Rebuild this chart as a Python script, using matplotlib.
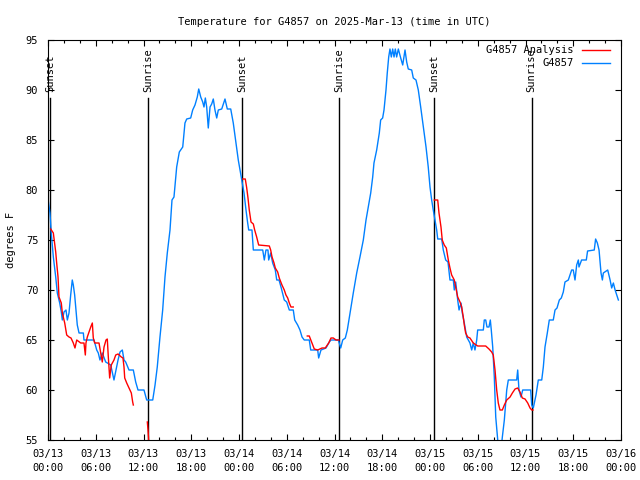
import numpy as np
import pandas as pd
import matplotlib
matplotlib.use("Agg")
import matplotlib.pyplot as plt
import matplotlib.dates as mdates

start = pd.Timestamp("2025-03-13 00:00")

# observed temperature, hours since 03/13 00:00 UTC
obs_hours = [0.0, 0.25, 0.41, 0.67, 0.97, 1.17, 1.47, 1.67, 1.80, 2.01, 2.26, 2.43, 2.64, 2.85,
             3.05, 3.18, 3.35, 3.52, 3.68, 3.90, 4.44, 4.52, 5.78, 6.12, 6.32, 6.53, 6.82, 7.25,
             7.88, 8.29, 8.80, 9.05, 9.34, 9.55, 9.76, 10.18, 10.72, 11.02, 11.31, 12.06, 12.40,
             13.16, 13.45, 13.73, 14.07, 14.41, 14.70, 14.99, 15.33, 15.58, 15.83, 16.17, 16.50,
             16.93, 17.21, 17.43, 17.93, 18.18, 18.47, 18.76, 18.94, 19.19, 19.44, 19.60, 19.77,
             19.94, 20.14, 20.36, 20.57, 20.77, 20.98, 21.20, 21.40, 21.83, 22.24, 22.53, 22.96,
             23.28, 23.62, 23.91, 24.34, 24.63, 24.88, 25.09, 25.22, 25.63, 25.80, 26.98, 27.18,
             27.39, 27.64, 27.73, 27.98, 28.23, 28.56, 28.74, 29.03, 29.31, 29.69, 29.99, 30.32,
             30.82, 31.00, 31.37, 31.66, 31.92, 32.20, 32.83, 33.01, 33.89, 34.01, 34.30, 34.93,
             35.35, 35.56, 36.40, 36.48, 36.78, 37.03, 37.36, 37.61, 37.95, 38.36, 38.79, 39.20,
             39.62, 39.96, 40.25, 40.55, 40.80, 40.96, 41.30, 41.63, 41.80, 42.05, 42.22, 42.47,
             42.63, 42.81, 42.97, 43.14, 43.31, 43.48, 43.64, 43.81, 44.02, 44.32, 44.57, 44.86,
             45.07, 45.27, 45.70, 45.90, 46.24, 46.53, 46.83, 47.16, 47.50, 47.78, 48.00, 48.21,
             48.41, 48.63, 48.84, 48.97, 49.47, 49.67, 49.97, 50.26, 50.51, 50.93, 51.05, 51.23,
             51.48, 51.65, 51.90, 52.06, 52.31, 52.61, 52.81, 53.02, 53.24, 53.44, 53.65, 53.87,
             53.99, 54.70, 54.82, 55.00, 55.16, 55.41, 55.58, 55.70, 55.88, 56.08, 56.26, 56.51,
             56.67, 56.92, 57.09, 57.34, 57.64, 57.84, 58.89, 59.02, 59.18, 59.43, 59.65, 60.65,
             60.78, 60.98, 61.32, 61.61, 62.04, 62.24, 62.45, 62.74, 62.99, 63.49, 63.71, 63.96,
             64.25, 64.50, 64.75, 64.96, 65.38, 65.59, 65.80, 66.00, 66.22, 66.43, 66.64, 66.72,
             67.05, 67.64, 67.80, 68.64, 68.81, 69.03, 69.24, 69.49, 69.66, 69.78, 70.33, 70.63,
             70.83, 71.04, 71.26, 71.46, 71.67]
obs_temps = [79.1, 77.7, 75.7, 73.3, 71.3, 69.7, 68.7, 67.8, 67.0, 67.8, 68.0, 67.0, 67.7, 69.5,
             71.0, 70.5, 69.5, 68.0, 66.5, 65.7, 65.7, 65.0, 65.0, 64.0, 63.7, 63.0, 63.7, 62.8,
             62.5, 61.0, 63.0, 63.8, 64.0, 63.0, 62.8, 62.0, 62.0, 60.8, 60.0, 60.0, 59.0,
             59.0, 60.5, 62.3, 65.3, 68.0, 71.3, 73.7, 76.0, 79.0, 79.3, 82.3, 83.8,
             84.3, 86.7, 87.1, 87.2, 88.0, 88.5, 89.3, 90.1, 89.3, 88.8, 88.3, 89.2,
             88.3, 86.2, 88.3, 88.6, 89.1, 88.0, 87.2, 88.0, 88.1, 89.1, 88.1, 88.1,
             86.7, 84.7, 83.0, 81.0, 79.7, 78.0, 76.7, 76.0, 76.0, 74.0, 74.0, 73.0,
             74.0, 74.0, 73.0, 73.7, 72.7, 72.0, 71.0, 71.0, 70.2, 69.0, 68.8, 68.0,
             68.0, 67.0, 66.5, 66.0, 65.3, 65.0, 65.0, 64.0, 64.0, 63.2, 64.0, 64.2,
             64.8, 65.0, 65.0, 65.0, 64.2, 65.0, 65.2, 66.0, 67.7, 69.7, 71.7, 73.3,
             75.0, 77.0, 78.3, 79.7, 81.3, 82.7, 84.0, 85.7, 87.0, 87.2, 88.0, 90.0,
             91.7, 93.3, 94.1, 93.3, 94.1, 93.3, 94.1, 93.3, 94.1, 93.2, 92.5, 94.0,
             92.8, 92.1, 92.0, 91.2, 91.0, 90.0, 88.3, 86.3, 84.3, 82.3, 80.3, 79.0,
             78.0, 77.0, 76.0, 75.1, 75.1, 74.0, 73.0, 72.8, 71.0, 71.0, 70.0, 70.8,
             69.0, 68.0, 68.7, 67.7, 66.7, 65.3, 65.0, 64.7, 64.0, 64.7, 64.0, 65.0,
             66.0, 66.0, 67.0, 67.0, 66.3, 66.3, 67.0, 66.0, 64.3, 61.3, 57.3, 55.0,
             54.0, 54.0, 55.3, 57.0, 60.0, 61.0, 61.0, 62.0, 60.0, 59.3, 60.0, 60.0,
             58.5, 58.2, 59.5, 61.0, 61.0, 62.3, 64.3, 65.7, 67.0, 67.0, 68.0, 68.2,
             69.0, 69.2, 69.8, 70.8, 71.0, 71.5, 72.0, 72.0, 71.0, 72.5, 73.0, 72.3,
             73.0, 73.0, 73.9, 74.0, 75.1, 74.7, 74.0, 71.7, 71.0, 71.7, 72.0, 71.0,
             70.2, 70.7, 70.0, 69.5, 69.0]

# analysis, nan = gap
ana_hours = [0.34, 0.67, 0.97, 1.09, 1.26, 1.38, 1.67, 1.80, 2.10, 2.35, 2.64, 2.89, 3.18, 3.39,
             3.61, 4.11, 4.52, 4.69, 4.77, 4.94, 5.37, 5.57, 5.69, 5.87, 6.41, 6.62, 6.82, 7.04,
             7.29, 7.45, 7.58, 7.75, 7.95, 8.29, 8.51, 8.80, 9.21, 9.42, 9.55, 9.64, 9.89, 10.18,
             10.47, 10.64, 10.72, np.nan,
             12.48, 12.57, 12.65, 12.69, np.nan,
             24.46, 24.79, 24.97, 25.13, 25.29, 25.51, 25.80, 25.97, 26.22, 26.47, 27.81, 27.98,
             28.15, 28.40, 28.56, 28.86, 29.06, 29.40, 29.69, 29.90, 30.12, 30.32, 30.53, 30.82,
             np.nan,
             32.58, 32.83, 33.17, 33.46, 33.89, 34.43, 34.84, 35.27, 35.56, 35.85, 36.19, 36.57,
             np.nan,
             48.54, 48.97, 49.13, 49.38, 49.54, 49.79, 50.05, 50.30, 50.51, 50.72, 51.05, 51.23,
             51.48, 51.77, 51.98, 52.18, 52.31, 52.48, 52.74, 53.02, 53.44, 53.99, 55.00, 55.41,
             55.75, 55.95, 56.17, 56.38, 56.58, 56.79, 57.09, 57.34, 57.64, 58.06, 58.35, 58.69,
             59.02, 59.31, 59.60, 59.94, 60.28, 60.57, 60.78, 60.95]
ana_temps = [76.1, 75.7, 73.8, 72.7, 71.3, 69.3, 68.7, 67.7, 66.7, 65.5, 65.3, 65.2, 64.7, 64.2,
             65.0, 64.7, 64.7, 63.5, 64.7, 65.3, 66.3, 66.7, 65.2, 64.7, 64.7, 63.7, 62.8, 64.3,
             65.0, 65.1, 63.3, 61.2, 62.5, 63.0, 63.5, 63.6, 63.3, 63.2, 62.3, 61.2, 60.7, 60.2,
             59.7, 58.8, 58.5, np.nan,
             56.8, 56.0, 55.0, 54.5, np.nan,
             81.1, 81.1, 80.2, 79.2, 78.0, 76.8, 76.6, 76.0, 75.3, 74.5, 74.4, 74.0,
             73.3, 72.7, 72.2, 71.8, 71.2, 70.5, 70.0, 69.5, 69.2, 68.7, 68.3, 68.3,
             np.nan,
             65.4, 65.4, 64.7, 64.1, 64.0, 64.2, 64.2, 64.7, 65.2, 65.2, 65.0, 65.0,
             np.nan,
             79.0, 79.0, 77.7, 76.3, 75.0, 74.5, 74.2, 73.0, 72.2, 71.5, 71.0, 70.3,
             69.3, 68.8, 68.3, 67.3, 66.5, 65.7, 65.3, 65.2, 64.7, 64.4, 64.4, 64.1,
             63.8, 63.5, 62.0, 60.0, 58.7, 58.0, 58.0, 58.5, 59.0, 59.3, 59.7, 60.1,
             60.2, 59.8, 59.2, 59.1, 58.7, 58.2, 58.0, 58.0]

sun_hours = [0.30, 12.60, 24.40, 36.60, 48.55, 60.78]
sun_labels = ["Sunset", "Sunrise", "Sunset", "Sunrise", "Sunset", "Sunrise"]


def to_num(hours):
    return np.array([mdates.date2num(start + pd.Timedelta(hours=h)) if not np.isnan(h) else np.nan
                     for h in hours])


plt.rcParams['font.family'] = ['DejaVu Sans Mono']
plt.rcParams['font.size'] = 7

fig = plt.figure(figsize=(6.4, 4.8), dpi=100)
ax = fig.add_axes([48 / 640, 40 / 480, 573 / 640, 400 / 480])

ax.plot(to_num(ana_hours), ana_temps, color='#ff0000', lw=1.0, label='G4857 Analysis', zorder=3)
ax.plot(to_num(obs_hours), obs_temps, color='#0080ff', lw=1.0, label='G4857', zorder=2)

for t, lab in zip(to_num(sun_hours), sun_labels):
    ax.plot([t, t], [55, 89.2], color='black', lw=1.0, zorder=1)
    ax.text(t, 89.8, lab, rotation=90, ha='center', va='bottom', fontsize=7.5)

ax.set_xlim(mdates.date2num(start), mdates.date2num(start + pd.Timedelta(hours=72)))
ax.set_ylim(55, 95)
ax.set_yticks(np.arange(55, 96, 5))

ax.xaxis.set_major_locator(mdates.HourLocator(byhour=[0, 6, 12, 18]))
ax.xaxis.set_minor_locator(mdates.HourLocator(interval=2))
ax.xaxis.set_major_formatter(mdates.DateFormatter('%m/%d\n%H:%M'))

ax.tick_params(which='both', direction='in', top=True, right=True, labelsize=7.5, width=0.8)
ax.tick_params(which='major', length=4.5, pad=6.5)
ax.tick_params(axis='y', which='major', pad=7)
ax.tick_params(which='minor', length=2.5)
for s in ax.spines.values():
    s.set_linewidth(0.8)

plt.setp(ax.get_xticklabels(), linespacing=1.55)

ax.set_ylabel('degrees F', fontsize=7.5, labelpad=7)
ax.set_title('Temperature for G4857 on 2025-Mar-13 (time in UTC)', fontsize=7.5, pad=11)

ax.legend(loc='upper right', bbox_to_anchor=(1 - 6 / 573, 1), markerfirst=False,
          frameon=False, fontsize=7.5, handlelength=2.7, handletextpad=0.8,
          labelspacing=0.3, borderaxespad=0.2, borderpad=0.3)

fig.savefig('out.png', dpi=100)
